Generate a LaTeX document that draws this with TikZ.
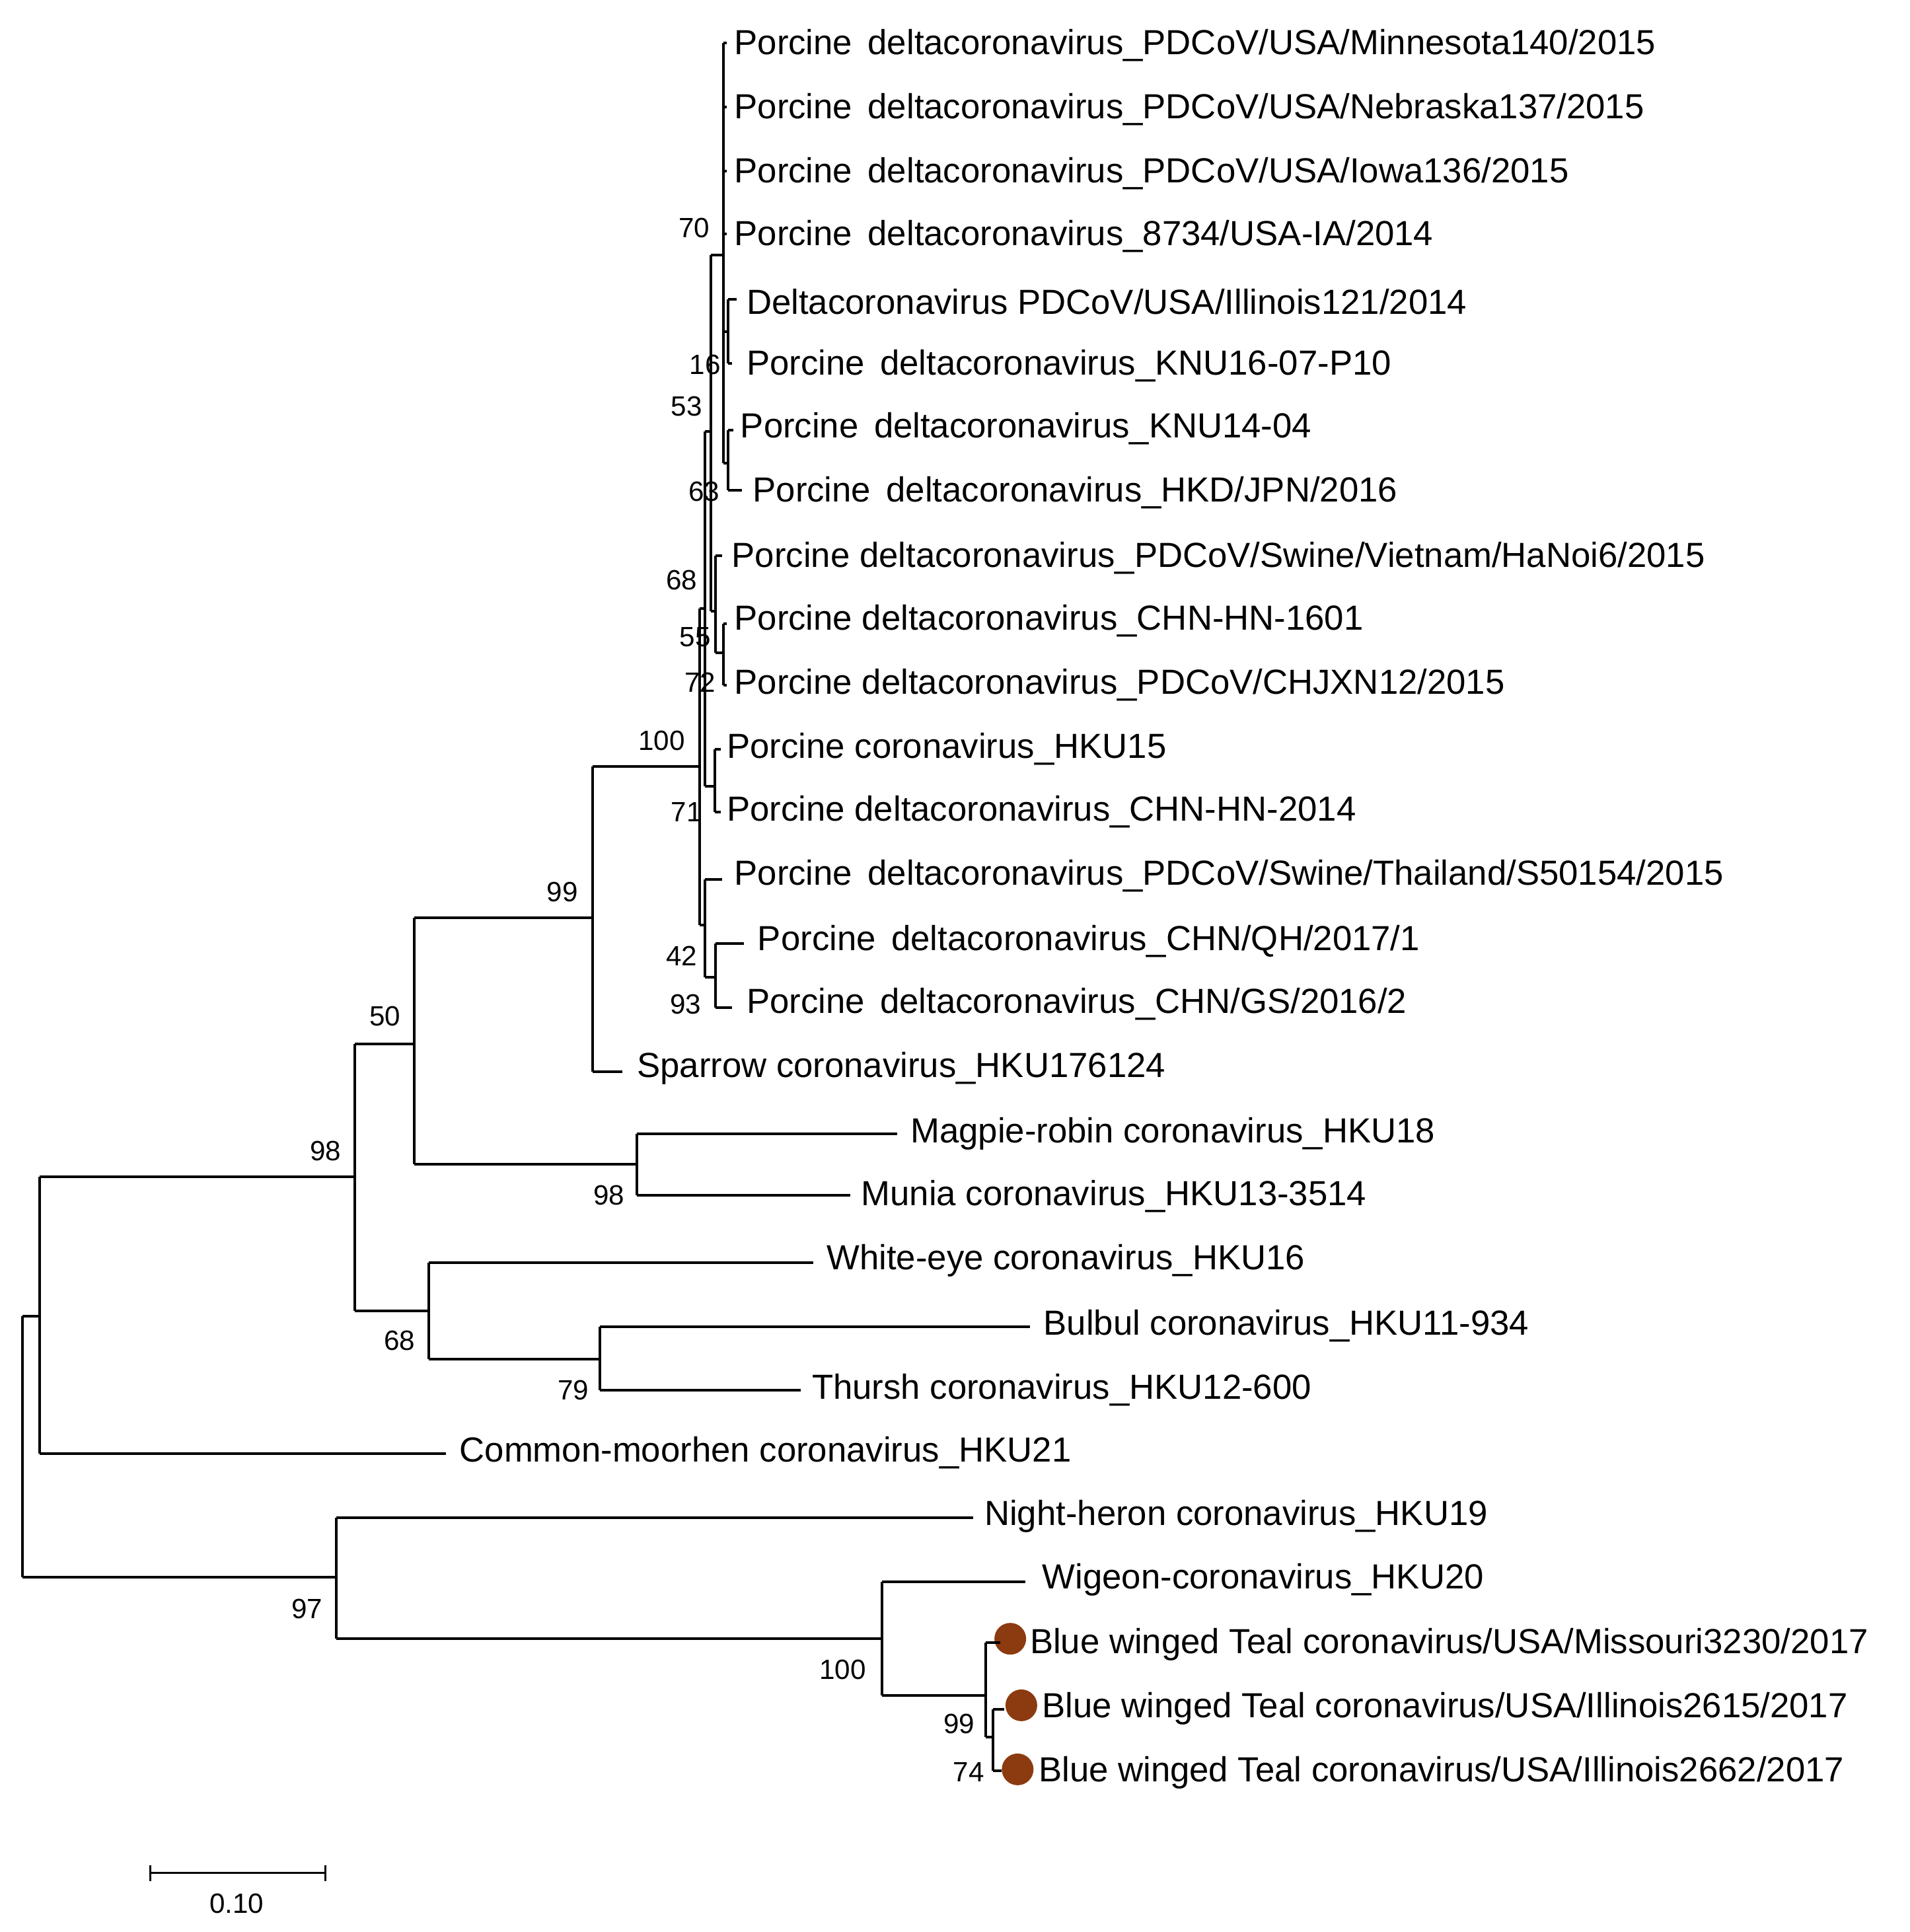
\documentclass[tikz,border=0pt]{standalone}
\usepackage{fontspec}
\setmainfont{Liberation Sans}
\begin{document}
\begin{tikzpicture}[x=0.1865mm,y=-0.1865mm,line width=0.4mm,
 leaf/.style={anchor=west,inner sep=0pt,yshift=-0.35mm,font=\fontsize{15}{17}\selectfont},
 bs/.style={anchor=east,inner sep=0pt,font=\fontsize{12}{14}\selectfont},
 dot/.style={circle,fill=dotc,inner sep=0pt,minimum size=4.8mm}]
\definecolor{dotc}{HTML}{8C3A10}
\useasboundingbox (0,0) rectangle (1550,1568);
% leaves
\node[leaf] (l1) at (595,35) {Porcine\, deltacoronavirus\_PDCoV/USA/Minnesota140/2015};
\node[leaf] (l2) at (595,87) {Porcine\, deltacoronavirus\_PDCoV/USA/Nebraska137/2015};
\node[leaf] (l3) at (595,139) {Porcine\, deltacoronavirus\_PDCoV/USA/Iowa136/2015};
\node[leaf] (l4) at (595,190) {Porcine\, deltacoronavirus\_8734/USA-IA/2014};
\node[leaf] (l5) at (605,243) {Deltacoronavirus PDCoV/USA/Illinois121/2014};
\node[leaf] (l6) at (605,295) {Porcine\, deltacoronavirus\_KNU16-07-P10};
\node[leaf] (l7) at (600,346) {Porcine\, deltacoronavirus\_KNU14-04};
\node[leaf] (l8) at (610,398) {Porcine\, deltacoronavirus\_HKD/JPN/2016};
\node[leaf] (l9) at (593,451) {Porcine deltacoronavirus\_PDCoV/Swine/Vietnam/HaNoi6/2015};
\node[leaf] (l10) at (595,502) {Porcine deltacoronavirus\_CHN-HN-1601};
\node[leaf] (l11) at (595,554) {Porcine deltacoronavirus\_PDCoV/CHJXN12/2015};
\node[leaf] (l12) at (589,606) {Porcine coronavirus\_HKU15};
\node[leaf] (l13) at (589,657) {Porcine deltacoronavirus\_CHN-HN-2014};
\node[leaf] (l14) at (595,709) {Porcine\, deltacoronavirus\_PDCoV/Swine/Thailand/S50154/2015};
\node[leaf] (l15) at (614,762) {Porcine\, deltacoronavirus\_CHN/QH/2017/1};
\node[leaf] (l16) at (605,813) {Porcine\, deltacoronavirus\_CHN/GS/2016/2};
\node[leaf] (l17) at (516,865) {Sparrow coronavirus\_HKU176124};
\node[leaf] (l18) at (738,918) {Magpie-robin coronavirus\_HKU18};
\node[leaf] (l19) at (698,969) {Munia coronavirus\_HKU13-3514};
\node[leaf] (l20) at (670,1021) {White-eye coronavirus\_HKU16};
\node[leaf] (l21) at (846,1074) {Bulbul coronavirus\_HKU11-934};
\node[leaf] (l22) at (658,1126) {Thursh coronavirus\_HKU12-600};
\node[leaf] (l23) at (372,1177) {Common-moorhen coronavirus\_HKU21};
\node[leaf] (l24) at (798,1229) {Night-heron coronavirus\_HKU19};
\node[leaf] (l25) at (845,1280) {Wigeon-coronavirus\_HKU20};
\node[leaf] (l26) at (835,1333) {Blue winged Teal coronavirus/USA/Missouri3230/2017};
\node[leaf] (l27) at (845,1385) {Blue winged Teal coronavirus/USA/Illinois2615/2017};
\node[leaf] (l28) at (842,1437) {Blue winged Teal coronavirus/USA/Illinois2662/2017};
\node[dot] (d1) at (820,1330) {};
\node[dot] (d2) at (829,1384) {};
\node[dot] (d3) at (826,1436) {};
% porcine clade
\draw (587,35) -- (587,376);
\foreach \y in {35,87,139,190} \draw (587,\y) -- (590,\y);
\draw (587,269) -- (591,269) (591,243) -- (591,295) (591,243) -- (598,243) (591,295) -- (594,295);
\draw (587,376) -- (591,376) (591,349) -- (591,398) (591,349) -- (595,349) (591,398) -- (602,398);
\draw (577,207) -- (587,207) (577,207) -- (577,496) (577,496) -- (581,496);
\draw (581,451) -- (581,530) (581,451) -- (586,451) (581,530) -- (587,530) (587,506) -- (587,556) (587,506) -- (590,506) (587,556) -- (590,556);
\draw (572,350) -- (577,350) (572,350) -- (572,638) (572,638) -- (580,638) (580,608) -- (580,659) (580,608) -- (585,608) (580,659) -- (585,659);
\draw (568,494) -- (572,494) (568,494) -- (568,751) (568,751) -- (572,751) (572,714) -- (572,793) (572,714) -- (586,714) (572,793) -- (581,793) (581,766) -- (581,818) (581,766) -- (604,766) (581,818) -- (594,818);
% backbone
\draw (481,622) -- (568,622) (481,622) -- (481,870) (481,870) -- (505,870);
\draw (336,745) -- (481,745) (336,745) -- (336,945) (336,945) -- (517,945);
\draw (517,920) -- (517,970) (517,920) -- (728,920) (517,970) -- (690,970);
\draw (288,847) -- (336,847) (288,847) -- (288,1064) (288,1064) -- (348,1064);
\draw (348,1025) -- (348,1103) (348,1025) -- (660,1025) (348,1103) -- (487,1103);
\draw (487,1077) -- (487,1128) (487,1077) -- (836,1077) (487,1128) -- (650,1128);
\draw (32,955) -- (288,955) (32,955) -- (32,1180) (32,1180) -- (362,1180);
\draw (18,1068) -- (32,1068) (18,1068) -- (18,1280) (18,1280) -- (273,1280);
\draw (273,1232) -- (273,1330) (273,1232) -- (790,1232) (273,1330) -- (716,1330);
\draw (716,1284) -- (716,1376) (716,1284) -- (832,1284) (716,1376) -- (800,1376);
\draw (800,1333) -- (800,1410) (800,1333) -- (812,1333) (800,1410) -- (806,1410) (806,1387) -- (806,1437) (806,1387) -- (815,1387) (806,1437) -- (813,1437);
% support values
\node[bs] at (577,185) {70};
\node[bs] at (586,296) {16};
\node[bs] at (571,330) {53};
\node[bs] at (585,399) {63};
\node[bs] at (567,471) {68};
\node[bs] at (578,517) {55};
\node[bs] at (582,554) {72};
\node[bs] at (557,601) {100};
\node[bs] at (571,659) {71};
\node[bs] at (567,776) {42};
\node[bs] at (570,815) {93};
\node[bs] at (470,724) {99};
\node[bs] at (326,825) {50};
\node[bs] at (508,970) {98};
\node[bs] at (278,934) {98};
\node[bs] at (338,1088) {68};
\node[bs] at (479,1128) {79};
\node[bs] at (263,1306) {97};
\node[bs] at (704,1355) {100};
\node[bs] at (792,1399) {99};
\node[bs] at (800,1438) {74};
% scale bar
\coordinate (s1) at (122,1520); \coordinate (s2) at (264,1520);
\draw[line width=0.35mm] (s1) -- (s2) ([yshift=1.2mm]s1) -- ([yshift=-1.2mm]s1) ([yshift=1.2mm]s2) -- ([yshift=-1.2mm]s2);
\node[inner sep=0pt,font=\fontsize{12}{14}\selectfont] (sl) at (192,1545) {0.10};
\end{tikzpicture}
\end{document}
